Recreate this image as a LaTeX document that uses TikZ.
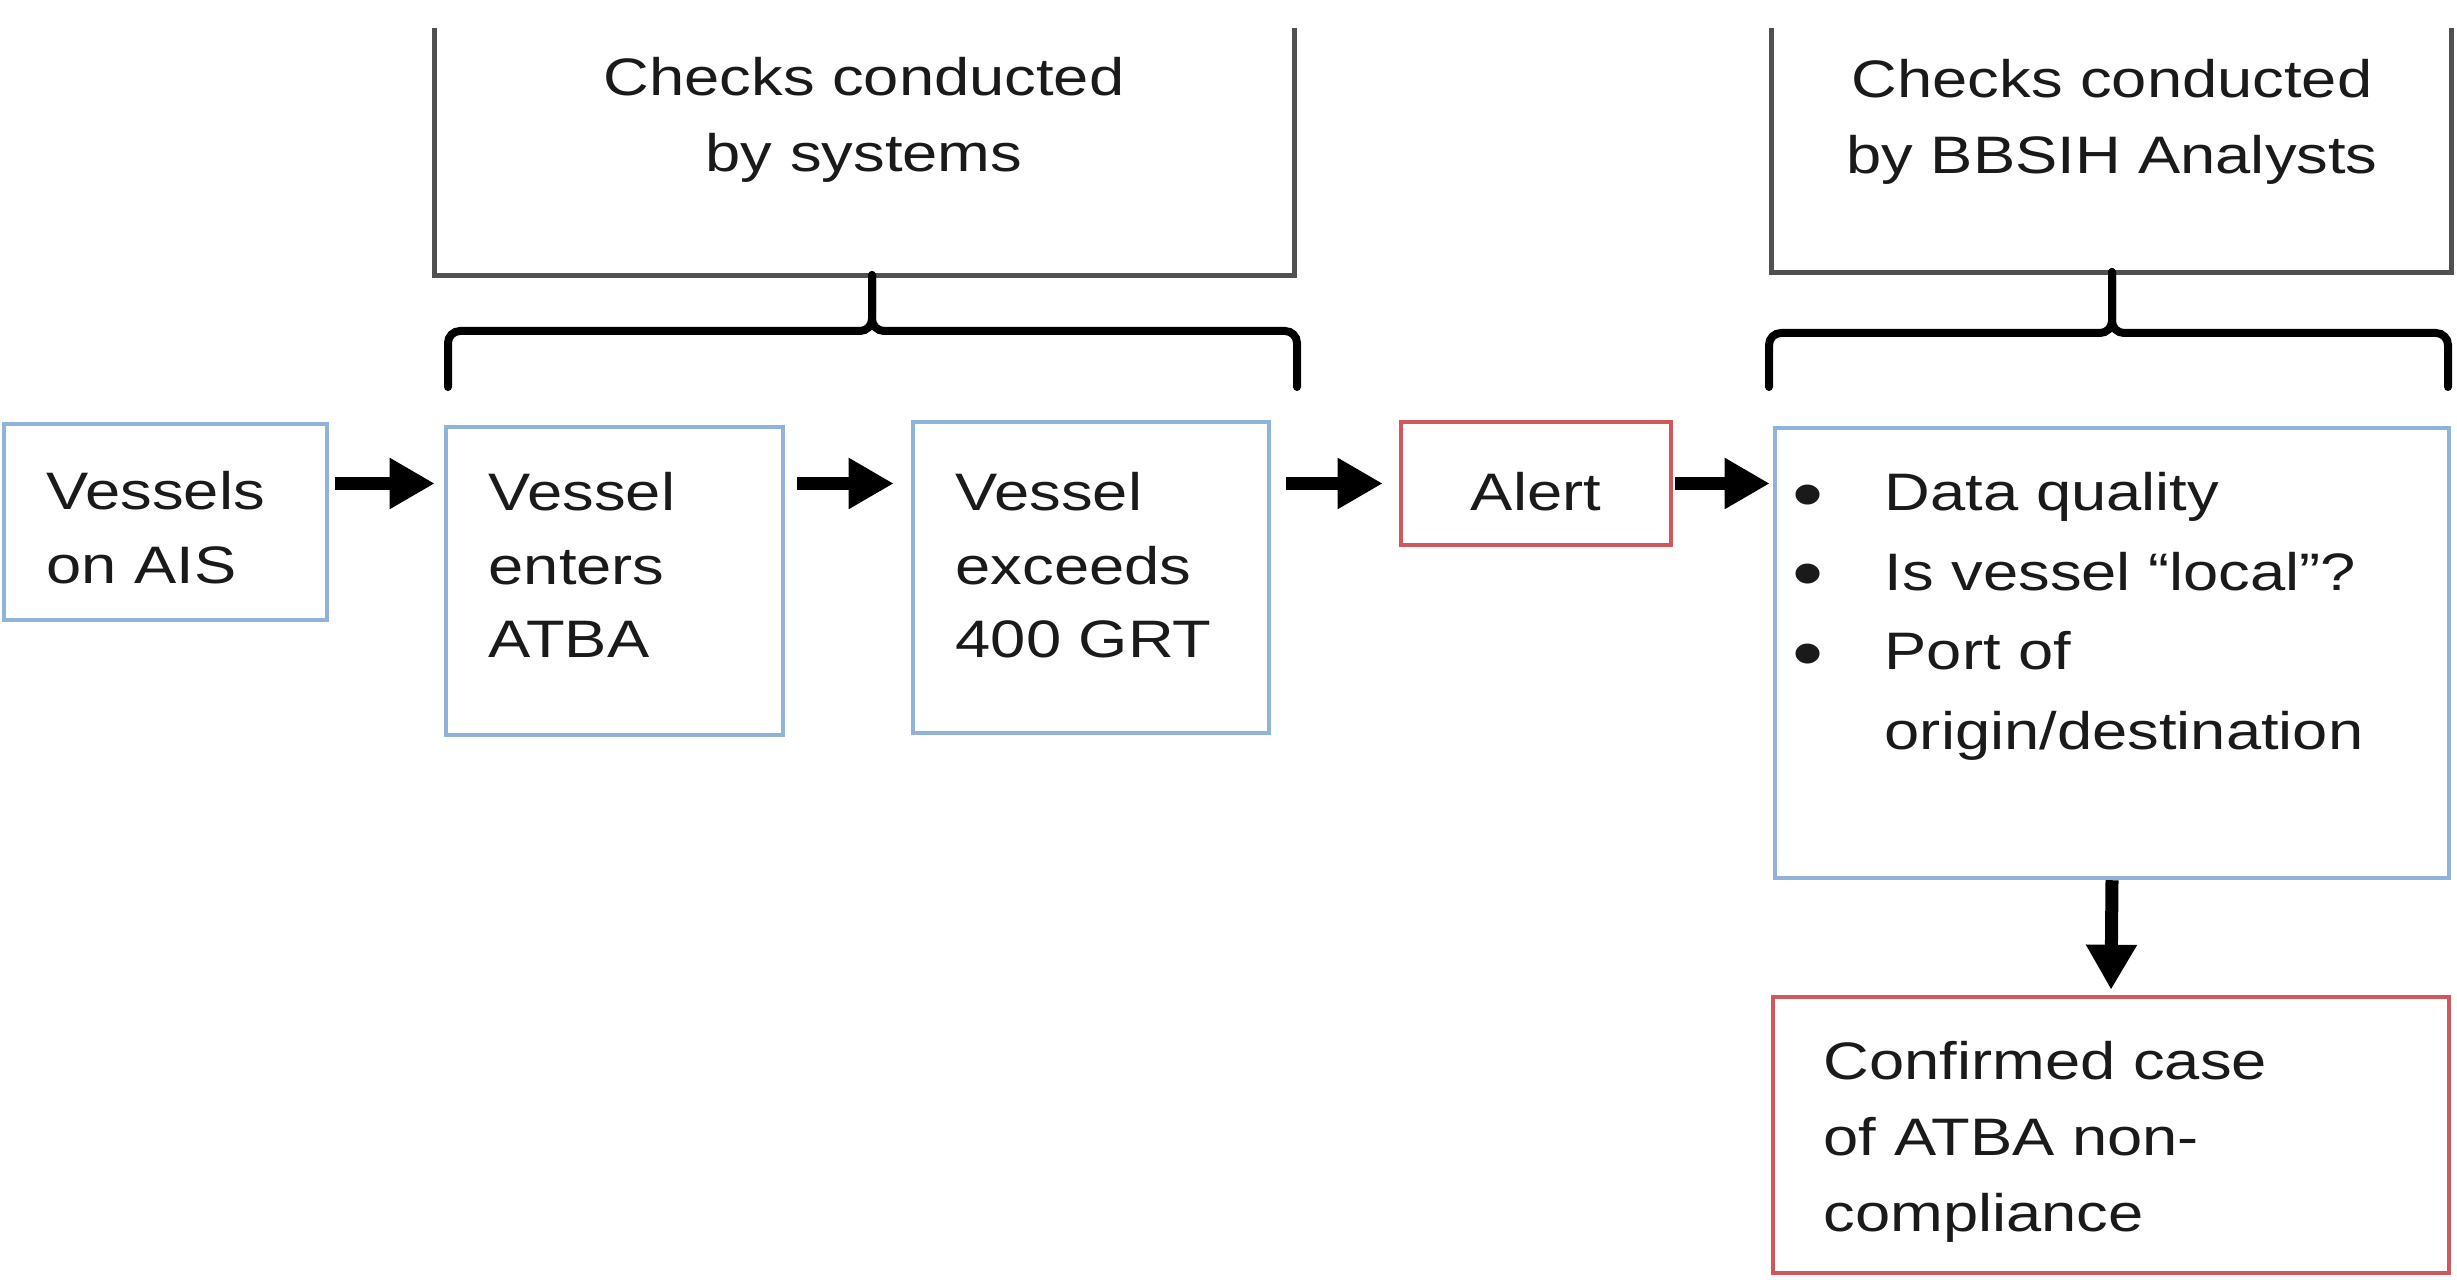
\documentclass[tikz,border=0pt]{standalone}
\usepackage{fontspec}
\setmainfont{Liberation Sans}[FakeStretch=1.2]
\usepackage{tikz}
\usetikzlibrary{arrows.meta,fit}
\definecolor{boxblue}{HTML}{8FB3D9}
\definecolor{boxred}{HTML}{D0575E}
\definecolor{hdrgray}{HTML}{505050}
\definecolor{inkx}{HTML}{1A1A1A}
\tikzset{
  ar/.style={-{Triangle[length=0.45cm,width=0.48cm]},line width=0.13cm,black},
  bluebox/.style={draw=boxblue,line width=0.045cm,inner sep=0pt},
  redbox/.style={draw=boxred,line width=0.045cm,inner sep=0pt},
  hdr/.style={draw=none,inner sep=0pt},
  hdrline/.style={hdrgray,line width=0.05cm},
  brace/.style={line width=0.08cm,rounded corners=0.12cm,line cap=round},
  txt/.style={font=\fontsize{15}{21.5}\selectfont,text=inkx,inner sep=0pt},
  tighttxt/.style={txt,font=\fontsize{15}{20.8}\selectfont},
  listtxt/.style={txt,font=\fontsize{15}{22.6}\selectfont}
}
\newcommand{\bigdot}{\raisebox{-0.3ex}{\scalebox{1.4}{\textbullet}}}

\begin{document}
\begin{tikzpicture}[x=0.01cm,y=-0.01cm]
\useasboundingbox (0,0) rectangle (2457,1280);
% process boxes
\node[bluebox,fit={(4,424) (327,620)}] (ais) {};
\node[bluebox,fit={(446,427) (783,735)}] (atba) {};
\node[bluebox,fit={(913,422) (1269,733)}] (grt) {};
\node[redbox,fit={(1401,422) (1671,545)}] (alert) {};
\node[bluebox,fit={(1775,428) (2449,878)}] (chk) {};
\node[redbox,fit={(1773,997) (2449,1273)}] (conf) {};
% header boxes, open at the top
\node[hdr,fit={(435,29) (1294,275)}] (sys) {};
\node[hdr,fit={(1772,29) (2451,272)}] (ana) {};
\draw[hdrline] (sys.north west) -- (sys.south west) -- (sys.south east) -- (sys.north east);
\draw[hdrline] (ana.north west) -- (ana.south west) -- (ana.south east) -- (ana.north east);
% texts
\node[txt,anchor=base] (t-sys) at (864,96) {\begin{tabular}[t]{@{}c@{}}Checks conducted\\by systems\end{tabular}};
\node[txt,anchor=base] (t-ana) at (2112,98) {\begin{tabular}[t]{@{}c@{}}Checks conducted\\by BBSIH Analysts\end{tabular}};
\node[tighttxt,anchor=base west] (t-ais) at (46,510) {\begin{tabular}[t]{@{}l@{}}Vessels\\on AIS\end{tabular}};
\node[tighttxt,anchor=base west] (t-atba) at (488,511) {\begin{tabular}[t]{@{}l@{}}Vessel\\enters\\ATBA\end{tabular}};
\node[tighttxt,anchor=base west] (t-grt) at (955,511) {\begin{tabular}[t]{@{}l@{}}Vessel\\exceeds\\400 GRT\end{tabular}};
\node[txt,anchor=base] (t-alert) at (1536,511) {Alert};
\node[listtxt,anchor=base west] (t-chk) at (1792,511) {\begin{tabular}[t]{@{}p{0.92cm}@{}l@{}}\bigdot & Data quality\\\bigdot & Is vessel “local”?\\\bigdot & Port of\\ & origin/destination\end{tabular}};
\node[txt,anchor=base west] (t-conf) at (1823,1080) {\begin{tabular}[t]{@{}l@{}}Confirmed case\\of ATBA non-\\compliance\end{tabular}};
% braces
\draw[brace] (448,387) -- (448,331) -- (872,331) -- (872,275);
\draw[brace] (1297,387) -- (1297,331) -- (872,331) -- (872,275);
\draw[brace] (1769,387) -- (1769,333) -- (2112,333) -- (2112,272);
\draw[brace] (2448,387) -- (2448,333) -- (2112,333) -- (2112,272);
% arrows
\draw[ar,shorten <=0.06cm,shorten >=0.09cm] (ais.east |- alert.west) -- (atba.west |- alert.west);
\draw[ar,shorten <=0.12cm,shorten >=0.17cm] (atba.east |- alert.west) -- (grt.west |- alert.west);
\draw[ar,shorten <=0.15cm,shorten >=0.16cm] (grt.east |- alert.west) -- (alert.west);
\draw[ar,shorten <=0.02cm,shorten >=0.03cm] (alert.east) -- (chk.west |- alert.east);
\draw[ar,shorten >=0.05cm] (chk.south) -- (conf.north);
\end{tikzpicture}
\end{document}
